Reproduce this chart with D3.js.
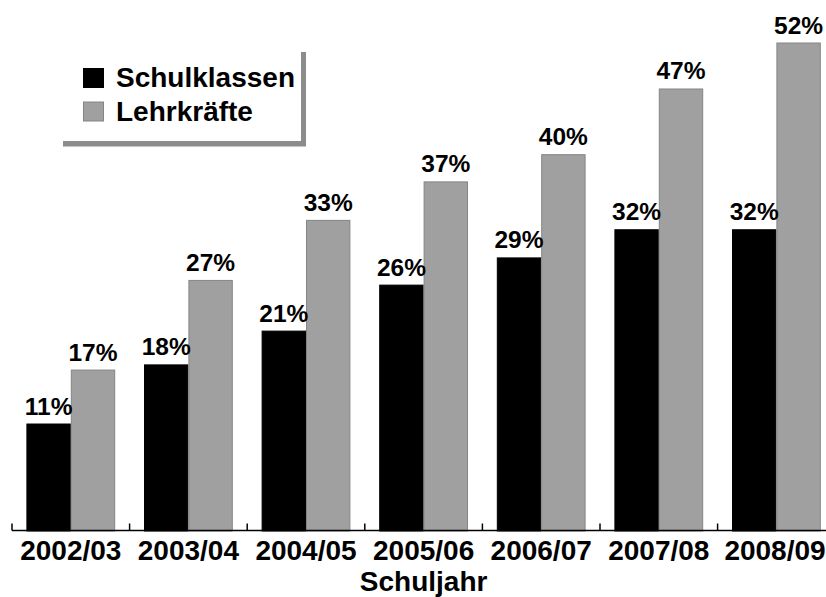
<!DOCTYPE html>
<html>
<head>
<meta charset="utf-8">
<script src="https://cdn.jsdelivr.net/npm/d3@7"></script>
<style>
  body { margin: 0; background: #fff; }
  text { font-family: "Liberation Sans", Arial, Helvetica, sans-serif; font-weight: bold; fill: #000; }
</style>
</head>
<body>
<svg id="chart" width="826" height="597"></svg>
<script>
const years = ['2002/03', '2003/04', '2004/05', '2005/06', '2006/07', '2007/08', '2008/09']
const seriesNames = ['Schulklassen', 'Lehrkräfte']
const schulklassen = [11.4, 17.7, 21.3, 26.2, 29.1, 32.1, 32.1]
const lehrkraefte = [17.15, 26.7, 33.1, 37.2, 40.1, 47.1, 52]
const schulklassenLabels = ['11%', '18%', '21%', '26%', '29%', '32%', '32%']
const lehrkraefteLabels = ['17%', '27%', '33%', '37%', '40%', '47%', '52%']
const xTitle = 'Schuljahr'

const colors = {Schulklassen: '#000', 'Lehrkräfte': '#a0a0a0'}
const strokes = {Schulklassen: '#000', 'Lehrkräfte': '#858585'}

const rows = years.map((year, i) => ({
  year,
  bars: [
    {key: 'Schulklassen', value: schulklassen[i], label: schulklassenLabels[i]},
    {key: 'Lehrkräfte', value: lehrkraefte[i], label: lehrkraefteLabels[i]}
  ]
}))

const svg = d3.select('#chart')
const baseY = 531

const x0 = d3.scaleBand()
  .domain(years)
  .range([12, 835.2])
  .paddingInner(0.245)
  .paddingOuter(0.1225)

const x1 = d3.scaleBand()
  .domain(seriesNames)
  .range([0, x0.bandwidth()])

const y = d3.scaleLinear()
  .domain([0, 52])
  .range([baseY, 43])

const groups = svg.append('g').selectAll('g')
  .data(rows)
  .join('g')
  .attr('transform', d => `translate(${x0(d.year)},0)`)

groups.selectAll('rect')
  .data(d => d.bars)
  .join('rect')
  .attr('x', d => x1(d.key) + 0.5)
  .attr('y', d => y(d.value))
  .attr('width', x1.bandwidth() - 1)
  .attr('height', d => y(0) - y(d.value))
  .attr('fill', d => colors[d.key])
  .attr('stroke', d => strokes[d.key])
  .attr('stroke-width', 1)

groups.selectAll('text')
  .data(d => d.bars)
  .join('text')
  .attr('x', d => x1(d.key) + x1.bandwidth() / 2)
  .attr('y', d => y(d.value) - 9.5)
  .attr('text-anchor', 'middle')
  .style('font-size', '24.5px')
  .text(d => d.label)

// x axis: baseline with inward ticks at the band boundaries
const step = x0.step()
const boundaries = years.map(yr => x0(yr) - x0.paddingInner() * step / 2)
const axis = svg.append('g')
axis.append('line')
  .attr('x1', 12).attr('x2', 826)
  .attr('y1', 530.5).attr('y2', 530.5)
  .attr('stroke', '#000').attr('stroke-width', 1.5)
axis.selectAll('line.tick')
  .data(boundaries)
  .join('line')
  .attr('class', 'tick')
  .attr('x1', d => d).attr('x2', d => d)
  .attr('y1', 530.5).attr('y2', 523.5)
  .attr('stroke', '#000').attr('stroke-width', 1.5)
axis.selectAll('text')
  .data(years)
  .join('text')
  .attr('x', d => Math.min(x0(d) + x0.bandwidth() / 2, 775))
  .attr('y', 560)
  .attr('text-anchor', 'middle')
  .style('font-size', '28px')
  .text(d => d)

svg.append('text')
  .attr('x', (12 + 835.2) / 2)
  .attr('y', 591)
  .attr('text-anchor', 'middle')
  .style('font-size', '28px')
  .text(xTitle)

// legend with drop shadow
const legend = svg.append('g')
legend.append('rect')
  .attr('x', 63).attr('y', 52).attr('width', 243).attr('height', 94.5)
  .attr('fill', '#8c8c8c')
legend.append('rect')
  .attr('x', 58).attr('y', 47).attr('width', 243).attr('height', 94)
  .attr('fill', '#fff')
const items = legend.selectAll('g')
  .data(seriesNames)
  .join('g')
  .attr('transform', (d, i) => `translate(0,${i * 33.5})`)
items.append('rect')
  .attr('x', 83.5).attr('y', 68.5).attr('width', 20).attr('height', 19)
  .attr('fill', d => colors[d])
  .attr('stroke', d => strokes[d])
items.append('text')
  .attr('x', 116)
  .attr('y', 87)
  .style('font-size', '28px')
  .text(d => d)
</script>
</body>
</html>
